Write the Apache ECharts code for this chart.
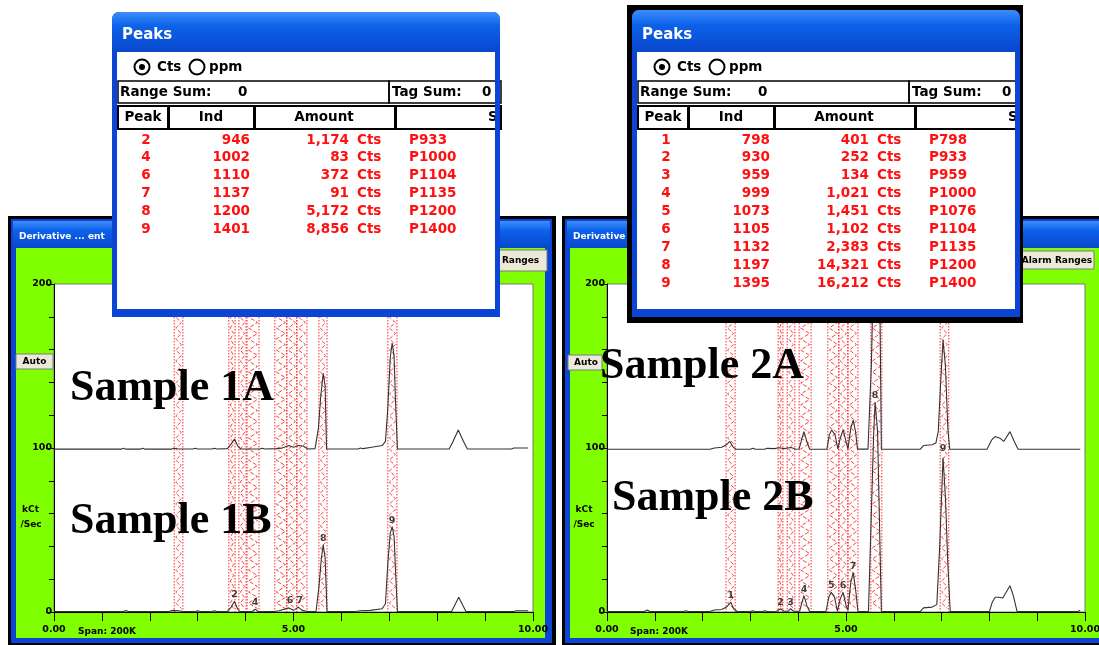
<!DOCTYPE html>
<html><head><meta charset="utf-8">
<script src="https://cdn.jsdelivr.net/npm/echarts@6/dist/echarts.min.js"></script>
<style>html,body{margin:0;padding:0;background:#fff}#c{width:1099px;height:645px}</style>
</head><body><div id="c"></div>
<script>
// ---------------- DATA ----------------
const xLabelValues = [0, 5, 10];
const yLabelValues = [0, 100, 200];

// Alarm ranges (keV) drawn as hatched bands
const bands1 = [[2.51,2.69],[3.65,3.78],[3.86,4.01],[4.03,4.28],[4.61,4.86],[4.86,5.07],[5.07,5.28],[5.53,5.70],[6.97,7.16]];
const bands2 = [[2.49,2.68],[3.58,3.68],[3.77,3.93],[4.02,4.27],[4.62,4.85],[4.85,5.04],[5.04,5.25],[5.52,5.75],[6.97,7.15]];

// Spectra: [keV, kCt/Sec]  (upper trace offset at 100)
const trace1A = [[0,99.3],[1.4,99.3],[1.45,99.9],[1.5,99.3],[1.8,99.3],[1.85,99.9],[1.9,99.3],[2.45,99.3],[2.5,99.8],[2.6,99.4],[2.9,99.4],[2.95,99.9],[3.0,99.4],[3.3,99.4],[3.35,99.9],[3.4,99.4],[3.62,99.6],[3.7,102.5],[3.77,105.5],[3.84,101],[3.9,99.4],[4.3,99.4],[4.35,99.9],[4.4,99.4],[4.65,99.6],[4.75,99.9],[4.9,101.5],[5.0,100.5],[5.1,101.5],[5.2,101.2],[5.3,99.4],[5.45,99.6],[5.52,112],[5.57,132],[5.62,145.5],[5.66,138],[5.69,99.4],[6.35,99.4],[6.4,100],[6.45,99.6],[6.6,100.3],[6.85,101.5],[6.92,104],[6.97,125],[7.02,155],[7.06,164],[7.1,156],[7.13,128],[7.17,99.4],[8.25,99.4],[8.33,104],[8.44,111],[8.55,104],[8.63,99.4],[9.55,99.4],[9.6,100],[9.9,100]];
const trace1B = [[0,0.3],[1.45,0.3],[1.5,0.9],[1.55,0.3],[2.4,0.3],[2.48,1],[2.6,0.8],[2.7,0.3],[2.95,0.3],[3.0,0.8],[3.05,0.3],[3.3,0.3],[3.35,0.8],[3.4,0.3],[3.62,0.4],[3.7,3],[3.77,6.5],[3.83,2],[3.88,0.3],[4.14,0.3],[4.2,1.8],[4.26,0.3],[4.6,0.3],[4.7,0.8],[4.9,2.5],[5.0,1],[5.1,3],[5.18,1],[5.3,0.3],[5.47,0.3],[5.53,15],[5.58,32],[5.62,41],[5.66,33],[5.7,0.3],[6.3,0.3],[6.4,0.8],[6.6,1],[6.85,2],[6.92,5],[6.97,30],[7.02,48],[7.06,52],[7.1,46],[7.13,25],[7.17,0.3],[8.3,0.3],[8.45,9],[8.6,0.3],[9.6,0.3],[9.65,0.8],[9.9,0.8]];
const trace2A = [[0,99.2],[0.8,99.2],[0.84,99.9],[0.9,99.2],[1.45,99.2],[1.49,99.8],[1.53,99.2],[1.63,99.2],[1.67,99.8],[1.71,99.2],[2.15,99.2],[2.25,100],[2.4,100.5],[2.5,102],[2.57,104],[2.64,100.5],[2.7,99.2],[3.0,99.2],[3.05,99.8],[3.1,99.2],[3.3,99.2],[3.35,99.8],[3.5,99.6],[3.6,100.2],[3.7,99.6],[3.85,100.3],[3.95,99.2],[4.02,99.4],[4.08,106],[4.12,110],[4.18,104],[4.24,99.2],[4.6,99.2],[4.65,108],[4.7,111],[4.77,108],[4.83,99.5],[4.88,106],[4.94,111],[5.0,104],[5.04,99.5],[5.1,112],[5.15,117],[5.2,110],[5.24,99.3],[5.46,99.3],[5.53,150],[5.58,215],[5.62,260],[5.7,215],[5.74,99.2],[6.55,99.2],[6.62,101.5],[6.8,102],[6.88,103],[6.93,110],[6.98,140],[7.03,166],[7.08,150],[7.13,112],[7.17,99.2],[7.95,99.2],[8.05,105],[8.12,107],[8.22,106],[8.3,104],[8.43,110],[8.52,104],[8.6,99.2],[9.9,99.2]];
const trace2B = [[0,0.3],[0.78,0.3],[0.84,1.2],[0.9,0.3],[1.6,0.3],[1.65,0.8],[1.7,0.3],[2.15,0.3],[2.25,1.2],[2.4,1.5],[2.5,3],[2.59,6],[2.65,2],[2.72,0.3],[3.0,0.3],[3.05,0.8],[3.1,0.3],[3.25,0.3],[3.3,0.8],[3.35,0.3],[3.55,0.5],[3.63,2],[3.7,0.5],[3.79,0.5],[3.84,2],[3.9,0.5],[4.03,0.5],[4.08,6],[4.12,10],[4.18,4],[4.24,0.3],[4.58,0.3],[4.64,9],[4.69,12],[4.76,9],[4.82,0.5],[4.88,8],[4.94,12],[5.0,4],[5.04,1],[5.1,18],[5.15,24],[5.2,14],[5.25,0.3],[5.47,0.3],[5.53,60],[5.58,110],[5.61,128],[5.66,110],[5.74,0.3],[6.55,0.3],[6.62,2.5],[6.8,3],[6.9,4.5],[6.96,40],[7.03,94],[7.08,70],[7.13,30],[7.18,0.3],[8.0,0.3],[8.06,6],[8.12,9],[8.2,9],[8.28,8.5],[8.43,16],[8.5,10],[8.58,0.3],[9.85,0.3],[9.9,1]];

// peak number labels on lower traces: [keV, height, number]
const labels1 = [[3.77,6.5,2],[4.2,1.8,4],[4.93,3,6],[5.13,3,7],[5.62,41,8],[7.06,52,9]];
const labels2 = [[2.59,6,1],[3.63,2,2],[3.84,2,3],[4.12,10,4],[4.69,12,5],[4.94,12,6],[5.15,24,7],[5.61,128,8],[7.03,96,9]];

// Peaks tables
const peaks1No  = ['2','4','6','7','8','9'];
const peaks1Ind = ['946','1002','1110','1137','1200','1401'];
const peaks1Amt = ['1,174','83','372','91','5,172','8,856'];
const peaks1Tag = ['P933','P1000','P1104','P1135','P1200','P1400'];
const peaks2No  = ['1','2','3','4','5','6','7','8','9'];
const peaks2Ind = ['798','930','959','999','1073','1105','1132','1197','1395'];
const peaks2Amt = ['401','252','134','1,021','1,451','1,102','2,383','14,321','16,212'];
const peaks2Tag = ['P798','P933','P959','P1000','P1076','P1104','P1135','P1200','P1400'];
const tableHeaders = ['Peak','Ind','Amount','S'];

const sampleTitles = ['Sample 1A','Sample 1B','Sample 2A','Sample 2B'];

// ---------------- HELPERS ----------------
const UI = '"DejaVu Sans"';
function R(x,y,w,h,fill,o){o=o||{};return {type:'rect',silent:true,shape:{x:x,y:y,width:w,height:h,r:o.r||0},style:{fill:fill,stroke:o.stroke||null,lineWidth:o.lw||1},z:o.z||0};}
function T(x,y,s,size,color,align,z,family,weight){return {type:'text',silent:true,x:x,y:y,z:z||0,style:{text:s,fill:color,font:(weight||'bold')+' '+size+'px '+(family||UI),textAlign:align||'left',textVerticalAlign:'middle'}};}
function C(cx,cy,r,fill,stroke,lw,z){return {type:'circle',silent:true,shape:{cx:cx,cy:cy,r:r},style:{fill:fill,stroke:stroke||null,lineWidth:lw||1},z:z||0};}
const titleGrad = {type:'linear',x:0,y:0,x2:0,y2:1,colorStops:[{offset:0,color:'#3d8dfb'},{offset:0.35,color:'#0d62ea'},{offset:1,color:'#0847cc'}]};
const winBlue = '#0b45d6';

function panelChrome(x0, w, title){
  const z=-20; return [
    R(x0,216,w,440,'#000',{z:z}),
    R(x0+3,219,w-7,424,winBlue,{z:z+1}),
    R(x0+5,221,w-11,27,titleGrad,{z:z+2}),
    T(x0+11,237,title,9,'#fff','left',z+3),
    R(x0+8,248,w-19,390,'#80ff00',{z:z+3})
  ];
}
function button(x,y,w,h,label,cx){
  return [R(x,y,w,h,'#ece9d8',{stroke:'#7a7a7a',lw:1,z:-10}), T(cx,y+h/2+0.5,label,9,'#000','center',-9)];
}

function peaksWindow(dx, top, frame, no, ind, amt, tag, zBase){
  const els=[]; let z=zBase;
  const add=e=>{e.z=z++; els.push(e);};
  if(frame) add(R(dx+107,5,396,318,'#000'));
  add(R(dx+112,top,388,317-top,winBlue,{r:[7,7,0,0]}));
  add(R(dx+112,top,388,52-top,titleGrad,{r:[7,7,0,0]}));
  add(R(dx+117,52,378,257,'#fff'));
  add(T(dx+122,35,'Peaks',15,'#fff'));
  // radio buttons
  add(C(dx+142,67,7.5,'#fff','#000',2));
  add(C(dx+142,67,3,'#000'));
  add(T(dx+157,67,'Cts',13.5,'#000'));
  add(C(dx+197,67,7.5,'#fff','#000',2));
  add(T(dx+209,67,'ppm',13.5,'#000'));
  // range sum row
  add(R(dx+118,81,271,22,null,{stroke:'#000',lw:1.5}));
  add(T(dx+120,92,'Range Sum:',13.5,'#000'));
  add(T(dx+238,92,'0',13.5,'#000'));
  add(R(dx+389,81,112,22,null,{stroke:'#000',lw:1.5}));
  add(T(dx+392,92,'Tag Sum:',13.5,'#000'));
  add(T(dx+482,92,'0',13.5,'#000'));
  // header
  const hx=[[118,50],[169,85],[255,140],[396,105]];
  hx.forEach(h=>add(R(dx+h[0],106,h[1],23,null,{stroke:'#000',lw:2})));
  add(T(dx+143,117,tableHeaders[0],13.5,'#000','center'));
  add(T(dx+211,117,tableHeaders[1],13.5,'#000','center'));
  add(T(dx+324,117,tableHeaders[2],13.5,'#000','center'));
  add(T(dx+488,117,tableHeaders[3],13.5,'#000','left'));
  // rows
  for(let i=0;i<no.length;i++){
    const y=140+17.9*i, red='#ff1010';
    add(T(dx+146,y,no[i],13.5,red,'center'));
    add(T(dx+250,y,ind[i],13.5,red,'right'));
    add(T(dx+349,y,amt[i],13.5,red,'right'));
    add(T(dx+357,y,'Cts',13.5,red,'left'));
    add(T(dx+409,y,tag[i],13.5,red,'left'));
  }
  // right / bottom border overlay
  add(R(dx+495,52,5,265,winBlue));
  add(R(dx+112,309,388,8,winBlue));
  return els;
}

// ---------------- CHART ----------------
function renderBand(params, api){
  const a = api.coord([api.value(0), 0]);
  const b = api.coord([api.value(1), 200]);
  const L=a[0], Rr=b[0], B=a[1], Tp=b[1];
  const red='#ff2a2a';
  const pts=[]; let left=true;
  for(let y=Tp; y<=B; y+=5.5){ pts.push([left?L+1.5:Rr-1.5, y]); left=!left; }
  return {type:'group', children:[
    {type:'line', shape:{x1:L,y1:Tp,x2:L,y2:B}, style:{stroke:red,lineWidth:1,lineDash:[1.5,1.5]}},
    {type:'line', shape:{x1:Rr,y1:Tp,x2:Rr,y2:B}, style:{stroke:red,lineWidth:1,lineDash:[1.5,1.5]}},
    {type:'polyline', shape:{points:pts}, style:{stroke:red,lineWidth:1,lineDash:[4,2],fill:null,opacity:0.9}}
  ]};
}
function xAx(gi){return {type:'value',gridIndex:gi,min:0,max:10,interval:1,
  axisLine:{show:true,onZero:false,lineStyle:{color:'#000',width:1}},
  axisTick:{show:true,length:9,lineStyle:{color:'#000'}},
  splitLine:{show:false},
  axisLabel:{show:true,showMinLabel:true,showMaxLabel:true,margin:13,color:'#000',fontSize:9.5,fontWeight:'bold',fontFamily:'DejaVu Sans',
    formatter:v=>xLabelValues.indexOf(v)>=0?v.toFixed(2):''}};}
function yAx(gi){return {type:'value',gridIndex:gi,min:0,max:200,interval:100,
  axisLine:{show:true,onZero:false,lineStyle:{color:'#000',width:1}},
  axisTick:{show:true,length:8,lineStyle:{color:'#000'}},
  minorTick:{show:true,splitNumber:5,length:5,lineStyle:{color:'#000'}},
  splitLine:{show:false},minorSplitLine:{show:false},
  axisLabel:{show:true,margin:2,color:'#000',fontSize:9.5,fontWeight:'bold',fontFamily:'DejaVu Sans',
    formatter:v=>yLabelValues.indexOf(v)>=0?String(v):''}};}
function lineS(gi,data){return {type:'line',xAxisIndex:gi,yAxisIndex:gi,data:data,symbol:'none',clip:true,z:4,
  lineStyle:{color:'#333',width:1.1},silent:true};}
function bandS(gi,data){return {type:'custom',xAxisIndex:gi,yAxisIndex:gi,data:data,renderItem:renderBand,clip:true,z:3,silent:true};}
function labS(gi,data){return {type:'scatter',xAxisIndex:gi,yAxisIndex:gi,data:data,symbolSize:1,z:5,silent:true,
  itemStyle:{color:'rgba(0,0,0,0)'},
  label:{show:true,position:'top',distance:1,formatter:p=>String(p.value[2]),fontSize:9.5,fontWeight:'bold',color:'#111',fontFamily:'DejaVu Sans'}};}

let graphics = [];
graphics = graphics.concat(panelChrome(8,548,'Derivative ... ent'));
graphics = graphics.concat(panelChrome(562,560,'Derivative ... ent'));
graphics = graphics.concat(button(467,250,80,21,'Alarm Ranges',504));
graphics = graphics.concat(button(1020,251,74,18,'Alarm Ranges',1057));
graphics = graphics.concat(button(16,354,37,15,'Auto',34.5));
graphics = graphics.concat(button(568,355,34,15,'Auto',586));
graphics.push(T(30.5,510,'kCt',9,'#000','center',-5), T(31,525,'/Sec',9,'#000','center',-5));
graphics.push(T(584,510,'kCt',9,'#000','center',-5), T(584,525,'/Sec',9,'#000','center',-5));
graphics.push(T(78,632,'Span: 200K',9,'#000','left',-5), T(630,632,'Span: 200K',9,'#000','left',-5));
const serif='"Liberation Serif"';
graphics.push(T(70,389,sampleTitles[0],44,'#000','left',50,serif));
graphics.push(T(70,522,sampleTitles[1],44,'#000','left',50,serif));
graphics.push(T(600,367,sampleTitles[2],44,'#000','left',50,serif));
graphics.push(T(612,499,sampleTitles[3],44,'#000','left',50,serif));
graphics = graphics.concat(peaksWindow(0,12,false,peaks1No,peaks1Ind,peaks1Amt,peaks1Tag,100));
graphics = graphics.concat(peaksWindow(520,10,true,peaks2No,peaks2Ind,peaks2Amt,peaks2Tag,300));

const chart = echarts.init(document.getElementById('c'), null, {renderer:'canvas'});
chart.setOption({
  animation:false,
  backgroundColor:'#fff',
  grid:[
    {left:54,top:284,width:479,height:328,show:true,backgroundColor:'#fff',borderColor:'#777',borderWidth:1,containLabel:false,outerBoundsMode:'none'},
    {left:607,top:284,width:478,height:328,show:true,backgroundColor:'#fff',borderColor:'#777',borderWidth:1,containLabel:false,outerBoundsMode:'none'}
  ],
  xAxis:[xAx(0),xAx(1)],
  yAxis:[yAx(0),yAx(1)],
  series:[
    bandS(0,bands1), bandS(1,bands2),
    lineS(0,trace1A), lineS(0,trace1B), lineS(1,trace2A), lineS(1,trace2B),
    labS(0,labels1), labS(1,labels2)
  ],
  graphic:graphics
});
</script></body></html>
